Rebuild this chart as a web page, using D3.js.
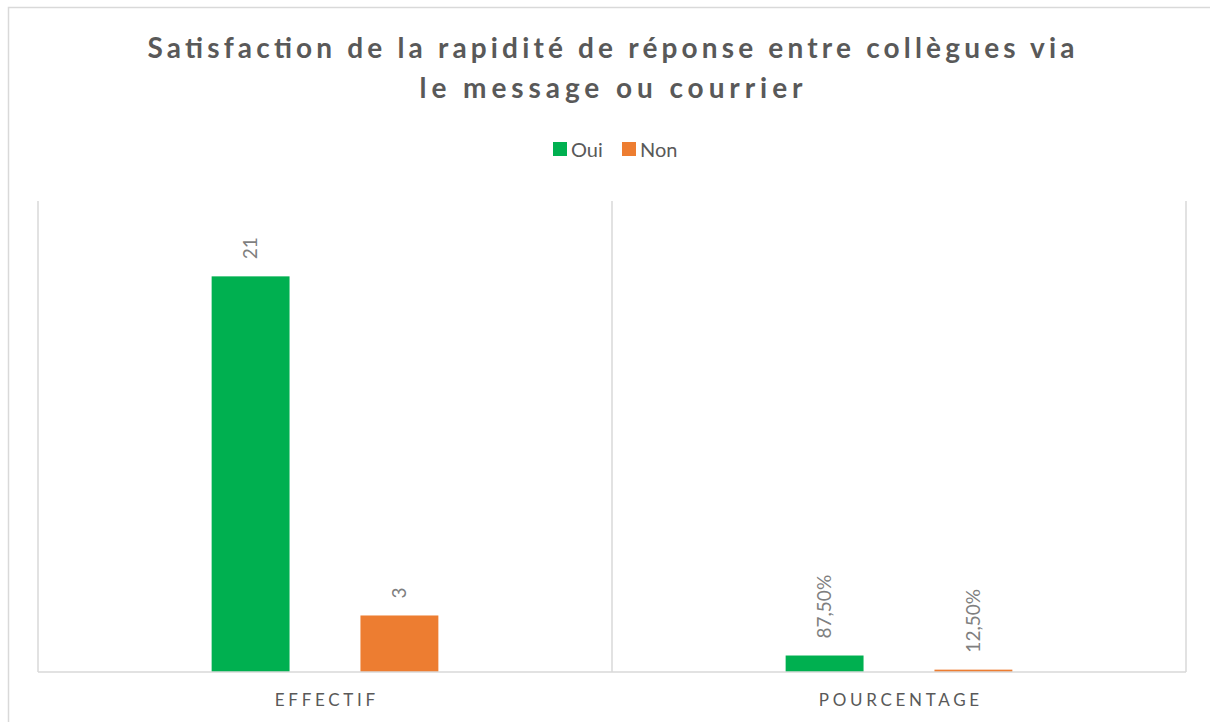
<!DOCTYPE html>
<html>
<head>
<meta charset="utf-8">
<script src="https://cdn.jsdelivr.net/npm/d3@7"></script>
<style>
  html, body { margin: 0; padding: 0; background: #fff; }
  svg { display: block; }
</style>
</head>
<body>
<svg id="chart" width="1210" height="722"></svg>
<script>
// Data
const categories = ["EFFECTIF", "POURCENTAGE"];
const seriesNames = ["Oui", "Non"];
const ouiValues = [21, 0.875];
const nonValues = [3, 0.125];
const valueLabels = [["21", "3"], ["87,50%", "12,50%"]];
const titleLines = ["Satisfaction de la rapidité de réponse entre collègues via", "le message ou courrier"];
const colors = { Oui: "#00b050", Non: "#ed7d31" };

const svg = d3.select("#chart");
const font = "Lato, 'Open Sans', sans-serif";

// Chart frame
svg.append("rect")
  .attr("x", 8.5).attr("y", 7.5)
  .attr("width", 1300).attr("height", 800)
  .attr("fill", "#fff").attr("stroke", "#d9d9d9").attr("stroke-width", 1.5);

// Title (two centred lines, widely tracked)
const titleWidths = [927, 383];
titleLines.forEach((t, i) => {
  svg.append("text")
    .attr("x", 611).attr("y", 58 + i * 40)
    .attr("text-anchor", "middle")
    .attr("font-family", font)
    .attr("font-weight", "bold")
    .attr("font-size", 28)
    .attr("textLength", titleWidths[i])
    .attr("lengthAdjust", "spacing")
    .attr("fill", "#595959")
    .text(t);
});

// Plot area
const plot = { left: 38, right: 1186, top: 201, bottom: 672 };

const x0 = d3.scaleBand().domain(categories).range([plot.left, plot.right]).padding(0);
const groupWidth = x0.bandwidth() * 0.395;
const x1 = d3.scaleBand().domain(seriesNames).range([0, groupWidth]).paddingInner(0.4765).paddingOuter(0);
const y = d3.scaleLinear().domain([0, 25]).range([plot.bottom, plot.top]);

// Category separators (vertical gridlines)
const gridX = [plot.left, ...categories.slice(1).map(c => x0(c)), plot.right];
svg.append("g").selectAll("line").data(gridX).join("line")
  .attr("x1", d => d).attr("x2", d => d)
  .attr("y1", plot.top).attr("y2", plot.bottom)
  .attr("stroke", "#d9d9d9").attr("stroke-width", 1.5);

// Bars
const rows = categories.map((c, i) => ({
  cat: c,
  values: [
    { key: "Oui", value: ouiValues[i], label: valueLabels[i][0] },
    { key: "Non", value: nonValues[i], label: valueLabels[i][1] }
  ]
}));

const groups = svg.append("g").selectAll("g").data(rows).join("g")
  .attr("transform", d => `translate(${x0(d.cat) + (x0.bandwidth() - groupWidth) / 2},0)`);

groups.selectAll("rect").data(d => d.values).join("rect")
  .attr("x", d => x1(d.key))
  .attr("y", d => y(d.value))
  .attr("width", x1.bandwidth())
  .attr("height", d => y(0) - y(d.value))
  .attr("fill", d => colors[d.key]);

// Value labels (rotated)
groups.selectAll("text").data(d => d.values).join("text")
  .attr("transform", d => `translate(${x1(d.key) + x1.bandwidth() / 2},${y(d.value) - 17}) rotate(-90)`)
  .attr("dy", "0.35em")
  .attr("text-anchor", "start")
  .attr("font-family", font)
  .attr("font-size", 19)
  .attr("fill", "#7f7f7f")
  .text(d => d.label);

// Baseline
svg.append("line")
  .attr("x1", plot.left).attr("x2", plot.right)
  .attr("y1", plot.bottom).attr("y2", plot.bottom)
  .attr("stroke", "#d9d9d9").attr("stroke-width", 1.5);

// Category labels
const xAxis = d3.axisBottom(x0).tickSize(0).tickPadding(0);
const axisG = svg.append("g").attr("transform", `translate(0,${plot.bottom})`).call(xAxis);
axisG.select(".domain").remove();
axisG.selectAll("text")
  .attr("y", 34).attr("dy", 0)
  .attr("dx", "1.8px")
  .attr("font-family", font)
  .attr("font-size", 17)
  .attr("letter-spacing", "3.7px")
  .attr("fill", "#595959");

// Legend
const legend = svg.append("g").attr("font-family", font).attr("font-size", 20);
const legendItems = [{ key: "Oui", x: 553 }, { key: "Non", x: 622 }];
legendItems.forEach(it => {
  legend.append("rect").attr("x", it.x).attr("y", 142).attr("width", 14).attr("height", 14).attr("fill", colors[it.key]);
  legend.append("text").attr("x", it.x + 18).attr("y", 157).attr("fill", "#595959").text(it.key);
});
</script>
</body>
</html>
